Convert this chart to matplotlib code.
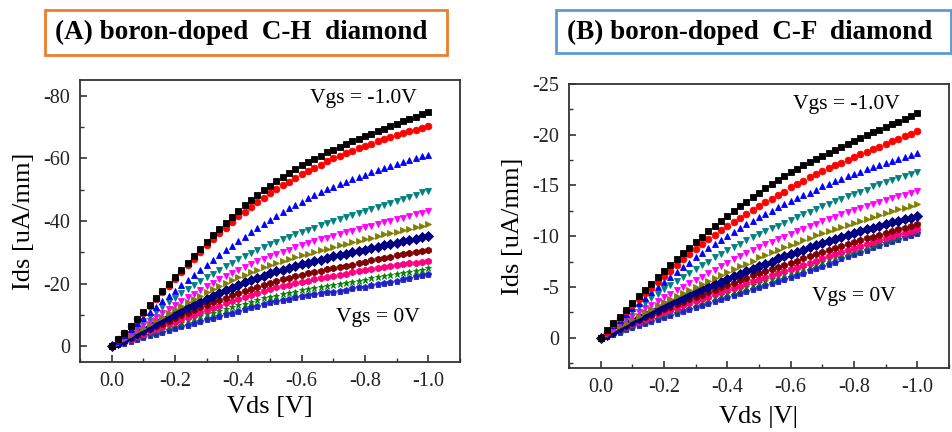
import numpy as np
import matplotlib
matplotlib.use('Agg')
import matplotlib.pyplot as plt
from matplotlib.patches import Rectangle
from matplotlib.ticker import MultipleLocator, FormatStrFormatter

plt.rcParams['font.family'] = ['Liberation Serif', 'DejaVu Serif']
plt.rcParams['axes.unicode_minus'] = False

# drain sweep, 0 to -1.0 V in 0.02 V steps
vds = np.linspace(0, -1.0, 51)

# |Ids| in uA/mm (current is negative), Vgs = -1.0 V ... 0 V
# (A) C-H diamond
ch_vgs_m10 = [0, 2.2, 4.4, 6.6, 8.8, 11.0, 13.2, 15.4, 17.6, 19.8, 22.0, 24.3, 26.6, 28.8, 31.1, 33.3,
              35.4, 37.4, 39.4, 41.4, 43.3, 45.1, 46.8, 48.4, 49.9, 51.3, 52.7, 54.0, 55.4, 56.6, 57.8,
              58.9, 59.9, 60.9, 61.9, 62.8, 63.7, 64.5, 65.4, 66.2, 67.0, 67.8, 68.6, 69.4, 70.2, 71.0,
              71.8, 72.5, 73.3, 74.0, 74.7]
ch_vgs_m09 = [0, 2.2, 4.3, 6.5, 8.6, 10.8, 13.0, 15.1, 17.3, 19.4, 21.6, 23.8, 25.9, 28.0, 30.2, 32.3,
              34.2, 36.1, 37.9, 39.7, 41.5, 43.0, 44.5, 46.0, 47.4, 48.8, 50.1, 51.4, 52.6, 53.8, 55.0,
              56.0, 57.0, 58.0, 59.0, 60.0, 60.8, 61.6, 62.4, 63.2, 64.0, 64.7, 65.4, 66.1, 66.8, 67.4,
              68.0, 68.6, 69.2, 69.8, 70.3]
ch_vgs_m08 = [0, 1.8, 3.6, 5.5, 7.3, 9.1, 10.9, 12.6, 14.4, 16.1, 17.8, 19.5, 21.1, 22.8, 24.4, 26.0,
              27.6, 29.1, 30.6, 32.1, 33.6, 35.0, 36.4, 37.8, 39.1, 40.4, 41.6, 42.8, 44.0, 45.1, 46.2,
              47.2, 48.2, 49.2, 50.1, 51.0, 51.8, 52.6, 53.4, 54.1, 54.8, 55.5, 56.2, 56.9, 57.6, 58.2,
              58.8, 59.4, 60.0, 60.6, 61.2]
ch_vgs_m07 = [0, 1.6, 3.2, 4.8, 6.4, 8.0, 9.5, 11.0, 12.5, 14.0, 15.5, 16.9, 18.2, 19.5, 20.8, 22.0,
              23.2, 24.4, 25.6, 26.7, 27.8, 28.8, 29.8, 30.8, 31.7, 32.6, 33.4, 34.2, 35.0, 35.8, 36.5,
              37.2, 37.9, 38.6, 39.3, 40.0, 40.6, 41.3, 41.9, 42.6, 43.2, 43.9, 44.5, 45.2, 45.8, 46.5,
              47.1, 47.8, 48.4, 49.1, 49.7]
ch_vgs_m06 = [0, 1.4, 2.7, 4.1, 5.4, 6.8, 8.1, 9.4, 10.6, 11.9, 13.2, 14.4, 15.6, 16.8, 18.0, 19.2,
              20.3, 21.4, 22.4, 23.5, 24.5, 25.4, 26.3, 27.1, 28.0, 28.8, 29.5, 30.2, 30.9, 31.6, 32.3,
              32.9, 33.5, 34.1, 34.7, 35.3, 35.8, 36.4, 36.9, 37.5, 38.0, 38.5, 39.0, 39.6, 40.1, 40.6,
              41.1, 41.6, 42.2, 42.7, 43.2]
ch_vgs_m05 = [0, 1.2, 2.4, 3.6, 4.8, 6.0, 7.2, 8.3, 9.5, 10.6, 11.8, 12.9, 14.0, 15.1, 16.1, 17.2,
              18.2, 19.2, 20.1, 21.1, 22.0, 22.8, 23.6, 24.4, 25.2, 25.9, 26.5, 27.2, 27.8, 28.4, 29.0,
              29.5, 30.1, 30.6, 31.2, 31.7, 32.2, 32.7, 33.2, 33.7, 34.2, 34.7, 35.2, 35.7, 36.1, 36.6,
              37.1, 37.6, 38.1, 38.5, 39.0]
ch_vgs_m04 = [0, 1.1, 2.1, 3.2, 4.2, 5.3, 6.3, 7.3, 8.4, 9.4, 10.4, 11.4, 12.4, 13.3, 14.3, 15.2,
              16.1, 17.0, 17.9, 18.7, 19.6, 20.4, 21.1, 21.9, 22.6, 23.3, 23.9, 24.5, 25.1, 25.7, 26.2,
              26.7, 27.2, 27.7, 28.2, 28.7, 29.1, 29.6, 30.0, 30.5, 30.9, 31.3, 31.8, 32.2, 32.7, 33.1,
              33.5, 33.9, 34.4, 34.8, 35.2]
ch_vgs_m03 = [0, 0.9, 1.8, 2.8, 3.7, 4.6, 5.5, 6.4, 7.2, 8.1, 9.0, 9.9, 10.7, 11.5, 12.4, 13.2,
              14.0, 14.8, 15.5, 16.3, 17.0, 17.7, 18.4, 19.0, 19.7, 20.3, 20.8, 21.4, 21.9, 22.4, 22.9,
              23.3, 23.7, 24.2, 24.6, 25.0, 25.4, 25.7, 26.0, 26.6, 27.0, 27.4, 27.8, 28.2, 28.6, 29.0,
              29.4, 29.8, 30.1, 30.5, 30.8]
ch_vgs_m02 = [0, 0.8, 1.6, 2.4, 3.2, 4.0, 4.8, 5.6, 6.3, 7.1, 7.9, 8.6, 9.4, 10.1, 10.9, 11.6,
              12.3, 13.0, 13.7, 14.4, 15.1, 15.8, 16.4, 17.1, 17.7, 18.3, 18.8, 19.3, 19.7, 20.2, 20.6,
              21.0, 21.4, 21.7, 22.1, 22.5, 22.9, 23.2, 23.6, 23.9, 24.3, 24.6, 24.9, 25.3, 25.6, 25.9,
              26.2, 26.5, 26.7, 27.0, 27.3]
ch_vgs_m01 = [0, 0.7, 1.4, 2.2, 2.9, 3.6, 4.3, 5.0, 5.6, 6.3, 7.0, 7.6, 8.3, 8.9, 9.6, 10.2,
              10.8, 11.4, 11.9, 12.5, 13.1, 13.6, 14.2, 14.7, 15.3, 15.8, 16.2, 16.7, 17.1, 17.5, 17.9,
              18.2, 18.6, 18.9, 19.3, 19.6, 19.9, 20.3, 20.6, 21.0, 21.3, 21.7, 22.0, 22.4, 22.7, 23.1,
              23.5, 23.8, 24.2, 24.5, 24.9]
ch_vgs_00 = [0, 0.6, 1.2, 1.7, 2.3, 2.9, 3.5, 4.1, 4.6, 5.2, 5.8, 6.4, 6.9, 7.5, 8.0, 8.6,
             9.2, 9.7, 10.3, 10.8, 11.4, 11.9, 12.4, 13.0, 13.5, 14.0, 14.4, 14.8, 15.2, 15.6, 16.0,
             16.3, 16.6, 16.9, 17.2, 17.5, 17.8, 18.1, 18.5, 18.8, 19.1, 19.5, 19.9, 20.2, 20.6, 21.0,
             21.4, 21.8, 22.3, 22.7, 23.1]

# (B) C-F diamond
cf_vgs_m10 = [0, 0.7, 1.4, 2.0, 2.7, 3.4, 4.1, 4.7, 5.3, 6.0, 6.6, 7.2, 7.7, 8.3, 8.8, 9.4,
              9.9, 10.5, 11.0, 11.5, 12.0, 12.5, 13.0, 13.4, 13.9, 14.3, 14.7, 15.1, 15.5, 15.9, 16.3,
              16.6, 17.0, 17.3, 17.6, 17.9, 18.2, 18.5, 18.8, 19.1, 19.4, 19.7, 20.0, 20.3, 20.5, 20.8,
              21.1, 21.3, 21.6, 21.8, 22.1]
cf_vgs_m09 = [0, 0.6, 1.3, 1.9, 2.6, 3.2, 3.8, 4.4, 4.9, 5.5, 6.1, 6.6, 7.2, 7.7, 8.2, 8.7,
              9.2, 9.7, 10.1, 10.6, 11.0, 11.4, 11.8, 12.2, 12.6, 13.0, 13.4, 13.7, 14.1, 14.4, 14.8,
              15.1, 15.4, 15.8, 16.1, 16.4, 16.7, 17.0, 17.2, 17.5, 17.8, 18.1, 18.3, 18.6, 18.8, 19.1,
              19.4, 19.6, 19.9, 20.1, 20.4]
cf_vgs_m08 = [0, 0.6, 1.2, 1.7, 2.3, 2.9, 3.4, 3.9, 4.5, 5.0, 5.5, 6.0, 6.5, 7.0, 7.4, 7.9,
              8.3, 8.8, 9.2, 9.6, 10.0, 10.4, 10.8, 11.2, 11.5, 11.9, 12.2, 12.5, 12.9, 13.2, 13.5,
              13.8, 14.1, 14.3, 14.6, 14.9, 15.1, 15.4, 15.6, 15.9, 16.1, 16.3, 16.6, 16.8, 17.0, 17.2,
              17.4, 17.6, 17.8, 18.0, 18.2]
cf_vgs_m07 = [0, 0.5, 1.0, 1.5, 2.0, 2.5, 3.0, 3.4, 3.9, 4.3, 4.8, 5.2, 5.6, 6.0, 6.4, 6.8,
              7.2, 7.5, 7.9, 8.2, 8.6, 8.9, 9.2, 9.6, 9.9, 10.2, 10.5, 10.8, 11.0, 11.3, 11.6,
              11.9, 12.2, 12.4, 12.7, 13.0, 13.2, 13.5, 13.7, 14.0, 14.2, 14.4, 14.6, 14.9, 15.1, 15.3,
              15.5, 15.7, 15.9, 16.1, 16.3]
cf_vgs_m06 = [0, 0.4, 0.8, 1.3, 1.7, 2.1, 2.5, 2.9, 3.2, 3.6, 4.0, 4.3, 4.7, 5.0, 5.4, 5.7,
              6.0, 6.4, 6.7, 7.1, 7.4, 7.7, 8.0, 8.3, 8.6, 8.9, 9.2, 9.4, 9.7, 9.9, 10.2,
              10.5, 10.7, 11.0, 11.2, 11.5, 11.7, 11.9, 12.2, 12.4, 12.6, 12.8, 13.0, 13.2, 13.4, 13.6,
              13.8, 14.0, 14.1, 14.3, 14.5]
cf_vgs_m05 = [0, 0.4, 0.7, 1.1, 1.4, 1.8, 2.1, 2.5, 2.8, 3.2, 3.5, 3.8, 4.1, 4.4, 4.7, 5.0,
              5.3, 5.6, 5.9, 6.2, 6.5, 6.8, 7.1, 7.3, 7.6, 7.9, 8.1, 8.4, 8.6, 8.9, 9.1,
              9.3, 9.6, 9.8, 10.1, 10.3, 10.5, 10.7, 10.9, 11.1, 11.3, 11.5, 11.7, 11.9, 12.1, 12.3,
              12.5, 12.7, 12.8, 13.0, 13.2]
cf_vgs_m04 = [0, 0.3, 0.6, 1.0, 1.3, 1.6, 1.9, 2.2, 2.5, 2.8, 3.1, 3.4, 3.7, 3.9, 4.2, 4.5,
              4.8, 5.0, 5.3, 5.5, 5.8, 6.1, 6.3, 6.6, 6.8, 7.1, 7.3, 7.5, 7.8, 8.0, 8.2,
              8.4, 8.6, 8.9, 9.1, 9.3, 9.5, 9.7, 9.9, 10.1, 10.3, 10.5, 10.7, 10.8, 11.0, 11.2,
              11.4, 11.5, 11.7, 11.8, 12.0]
cf_vgs_m03 = [0, 0.3, 0.6, 0.8, 1.1, 1.4, 1.7, 2.0, 2.2, 2.5, 2.8, 3.0, 3.3, 3.5, 3.8, 4.0,
              4.2, 4.5, 4.7, 5.0, 5.2, 5.4, 5.7, 5.9, 6.2, 6.4, 6.6, 6.8, 7.0, 7.2, 7.4,
              7.6, 7.8, 8.0, 8.2, 8.4, 8.6, 8.8, 9.0, 9.2, 9.4, 9.6, 9.8, 9.9, 10.1, 10.3,
              10.5, 10.7, 10.8, 11.0, 11.2]
cf_vgs_m02 = [0, 0.3, 0.5, 0.8, 1.0, 1.3, 1.5, 1.8, 2.0, 2.3, 2.5, 2.7, 2.9, 3.2, 3.4, 3.6,
              3.8, 4.0, 4.3, 4.5, 4.7, 4.9, 5.1, 5.4, 5.6, 5.8, 6.0, 6.2, 6.4, 6.6, 6.8,
              7.0, 7.2, 7.4, 7.6, 7.8, 8.0, 8.2, 8.4, 8.6, 8.8, 9.0, 9.2, 9.4, 9.6, 9.8,
              10.0, 10.2, 10.3, 10.5, 10.7]
cf_vgs_m01 = [0, 0.2, 0.5, 0.7, 1.0, 1.2, 1.4, 1.6, 1.9, 2.1, 2.3, 2.5, 2.7, 3.0, 3.2, 3.4,
              3.6, 3.8, 4.0, 4.2, 4.4, 4.6, 4.8, 5.0, 5.2, 5.4, 5.6, 5.8, 6.1, 6.3, 6.5,
              6.7, 6.9, 7.1, 7.3, 7.5, 7.7, 7.9, 8.1, 8.3, 8.5, 8.7, 8.9, 9.1, 9.3, 9.5,
              9.7, 9.9, 10.1, 10.3, 10.5]
cf_vgs_00 = [0, 0.2, 0.4, 0.6, 0.8, 1.0, 1.2, 1.4, 1.6, 1.8, 2.0, 2.2, 2.4, 2.6, 2.8, 3.0,
             3.2, 3.4, 3.6, 3.8, 4.0, 4.2, 4.4, 4.6, 4.8, 5.0, 5.2, 5.4, 5.6, 5.8, 6.0,
             6.2, 6.4, 6.7, 6.9, 7.1, 7.3, 7.5, 7.8, 8.0, 8.2, 8.4, 8.6, 8.9, 9.1, 9.3,
             9.5, 9.7, 9.9, 10.1, 10.3]

ch_curves = [ch_vgs_m10, ch_vgs_m09, ch_vgs_m08, ch_vgs_m07, ch_vgs_m06, ch_vgs_m05,
             ch_vgs_m04, ch_vgs_m03, ch_vgs_m02, ch_vgs_m01, ch_vgs_00]
cf_curves = [cf_vgs_m10, cf_vgs_m09, cf_vgs_m08, cf_vgs_m07, cf_vgs_m06, cf_vgs_m05,
             cf_vgs_m04, cf_vgs_m03, cf_vgs_m02, cf_vgs_m01, cf_vgs_00]

colors = ['#000000', '#ff0000', '#0000ff', '#008080', '#ff00ff', '#808000',
          '#000080', '#800000', '#ff0080', '#008000', '#2020c8']
markers = ['s', 'o', '^', 'v', 'v', '>', 'D', 'h', 'h', '*', 'p']

fig = plt.figure(figsize=(9.53, 4.32), dpi=100)

# title boxes
fig.patches.append(Rectangle((0.0472, 0.8727), 0.4218, 0.1042, transform=fig.transFigure,
                             fill=False, edgecolor='#ed7d31', linewidth=2))
fig.patches.append(Rectangle((0.5834, 0.8773), 0.4145, 0.0995, transform=fig.transFigure,
                             fill=False, edgecolor='#5b9bd5', linewidth=2))
fig.text(0.2529, 0.924, '(A) boron-doped  C-H  diamond', ha='center', va='center',
         fontsize=19.5, fontweight='bold')
fig.text(0.787, 0.924, '(B) boron-doped  C-F  diamond', ha='center', va='center',
         fontsize=19.5, fontweight='bold')

ax1 = fig.add_axes([0.0839, 0.162, 0.3987, 0.6528])
ax2 = fig.add_axes([0.597, 0.1481, 0.3987, 0.6574])

for ax, curves in [(ax1, ch_curves), (ax2, cf_curves)]:
    for i in range(len(curves) - 1, -1, -1):
        ax.plot(vds, -np.array(curves[i]), linestyle='none', marker=markers[i],
                color=colors[i], markersize=4.8, markeredgewidth=0.6)
    ax.set_xlim(0.1, -1.1)
    ax.xaxis.set_major_locator(MultipleLocator(0.2))
    ax.xaxis.set_minor_locator(MultipleLocator(0.1))
    ax.xaxis.set_major_formatter(FormatStrFormatter('%.1f'))
    for s in ax.spines.values():
        s.set_color('#333333')
        s.set_linewidth(1.3)
    ax.tick_params(which='both', direction='in', top=False, right=False,
                   labelsize=14.5, colors='#333333', labelcolor='#222222')
    ax.tick_params(which='major', length=5, width=1.2, pad=7)
    ax.tick_params(which='minor', length=3, width=1.0)

ax1.set_ylim(5, -85)
ax1.yaxis.set_major_locator(MultipleLocator(20))
ax1.yaxis.set_minor_locator(MultipleLocator(10))
ax1.set_ylabel('Ids [uA/mm]', fontsize=19, labelpad=6)
ax1.set_xlabel('Vds [V]', fontsize=19, labelpad=4)
ax1.text(-0.795, -79, 'Vgs = -1.0V', fontsize=15.5, ha='center', va='center')
ax1.text(-0.84, -9.2, 'Vgs = 0V', fontsize=15.5, ha='center', va='center')

ax2.set_ylim(3, -25)
ax2.yaxis.set_major_locator(MultipleLocator(5))
ax2.yaxis.set_minor_locator(MultipleLocator(2.5))
ax2.set_ylabel('Ids [uA/mm]', fontsize=19, labelpad=6)
ax2.set_xlabel('Vds |V|', fontsize=19, labelpad=7)
ax2.text(-0.775, -23, 'Vgs = -1.0V', fontsize=15.5, ha='center', va='center')
ax2.text(-0.80, -4.1, 'Vgs = 0V', fontsize=15.5, ha='center', va='center')

fig.savefig('out.png', dpi=100)
